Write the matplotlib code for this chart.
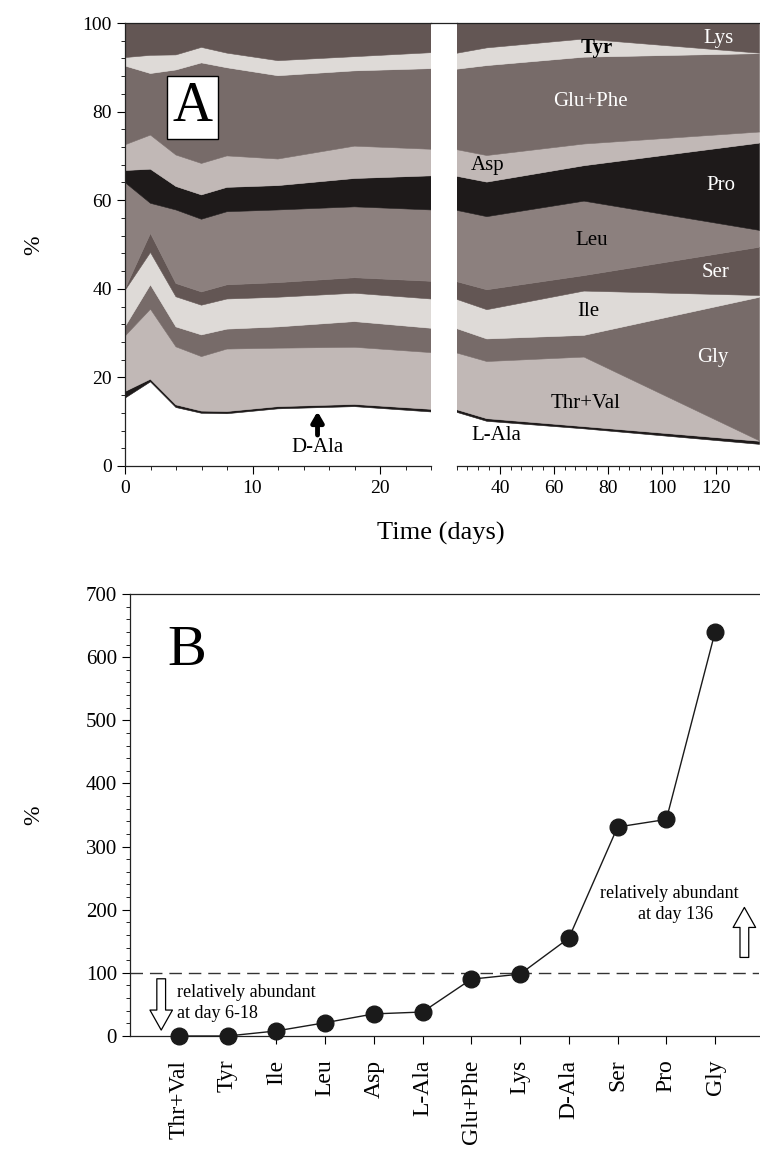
import matplotlib
matplotlib.use('Agg')
import matplotlib.pyplot as plt
import numpy as np
from matplotlib.ticker import MultipleLocator
from matplotlib.lines import Line2D
from matplotlib.patches import FancyArrowPatch, ArrowStyle

plt.rcParams['font.family'] = ['Liberation Serif', 'DejaVu Serif']

# ---------------- Panel A data (percent composition, stacked bottom->top)
days = [0, 2, 4, 6, 8, 12, 18, 24, 35, 71, 136]
l_ala   = [15.3, 19.0, 13.2, 11.9, 11.8, 12.9, 13.4, 12.2, 10.2, 8.5, 5.0]
d_ala   = [1.5, 0.6, 0.6, 0.5, 0.5, 0.5, 0.5, 0.6, 0.6, 0.5, 0.7]
thr_val = [12.5, 15.8, 13.1, 12.3, 14.1, 13.2, 12.9, 12.8, 12.9, 15.7, 0.1]
gly     = [2.1, 5.5, 4.5, 4.9, 4.5, 4.8, 5.8, 5.5, 5.1, 4.9, 32.4]
ile     = [8.2, 7.3, 6.8, 6.7, 6.8, 6.7, 6.4, 6.6, 6.6, 10.0, 0.4]
ser     = [0.3, 4.3, 3.0, 3.0, 3.2, 3.3, 3.5, 4.0, 4.5, 3.5, 10.9]
leu     = [24.1, 6.8, 16.6, 16.4, 16.5, 16.4, 16.0, 16.1, 16.5, 16.8, 3.8]
pro     = [2.7, 7.7, 5.3, 5.5, 5.5, 5.5, 6.4, 7.7, 7.8, 8.0, 19.7]
asp     = [5.8, 7.7, 7.1, 7.1, 7.1, 6.0, 7.3, 6.0, 6.0, 4.9, 2.5]
glu_phe = [17.8, 13.9, 19.2, 22.7, 19.9, 18.8, 17.0, 18.2, 20.3, 19.6, 17.7]
tyr     = [1.9, 4.1, 3.4, 3.5, 3.3, 3.4, 3.2, 3.6, 4.0, 4.1, 0.1]
lys     = [7.8, 7.3, 7.2, 5.5, 6.8, 8.5, 7.6, 6.7, 5.5, 3.5, 6.7]

layers = [l_ala, d_ala, thr_val, gly, ile, ser, leu, pro, asp, glu_phe, tyr, lys]
layer_colors = ['#ffffff', '#1e1a1a', '#c1b8b6', '#776b69', '#dedad7', '#635654',
                '#8c807e', '#1e1a1a', '#c1b8b6', '#776b69', '#dedad7', '#635654']

# ---------------- Panel B data
categories = ['Thr+Val', 'Tyr', 'Ile', 'Leu', 'Asp', 'L-Ala', 'Glu+Phe',
              'Lys', 'D-Ala', 'Ser', 'Pro', 'Gly']
ratio = [0, 0, 8, 21, 35, 38, 90, 98, 155, 331, 343, 640]

W, H = 760, 1158
fig = plt.figure(figsize=(W / 100, H / 100), dpi=100)


def rect(x0, y0, x1, y1):
    return [x0 / W, 1 - y1 / H, (x1 - x0) / W, (y1 - y0) / H]


axL = fig.add_axes(rect(125, 23, 431, 466))
axR = fig.add_axes(rect(456.7, 23, 759, 466))
for ax in (axL, axR):
    polys = ax.stackplot(days, layers, colors=layer_colors)
    for p, c in zip(polys, layer_colors):
        p.set_edgecolor(c)
        p.set_linewidth(0.4)
    ax.set_ylim(0, 100)
    ax.spines['right'].set_visible(False)
    for s in ax.spines.values():
        s.set_linewidth(0.9)
        s.set_color('#222222')
    ax.tick_params(axis='x', which='major', direction='out', length=6, labelsize=14, pad=4)
    ax.tick_params(axis='x', which='minor', direction='out', length=3)

axL.set_xlim(0, 24)
axL.xaxis.set_major_locator(MultipleLocator(10))
axL.xaxis.set_minor_locator(MultipleLocator(2))
axL.yaxis.set_major_locator(MultipleLocator(20))
axL.yaxis.set_minor_locator(MultipleLocator(4))
axL.tick_params(axis='y', which='major', direction='out', length=6, labelsize=14)
axL.tick_params(axis='y', which='minor', direction='out', length=3)

axR.set_xlim(24, 136)
axR.spines['left'].set_visible(False)
axR.set_yticks([])
axR.xaxis.set_major_locator(MultipleLocator(20))
axR.xaxis.set_minor_locator(MultipleLocator(4))
axR.set_xticks([40, 60, 80, 100, 120])

# top line across the gap
fig.add_artist(Line2D([431 / W, 456.7 / W], [1 - 23 / H, 1 - 23 / H],
                      color='#222222', lw=0.9, transform=fig.transFigure))

# "A" box
axL.text(0.22, 0.81, 'A', transform=axL.transAxes, fontsize=40, ha='center', va='center',
         bbox=dict(boxstyle='square,pad=0.1', fc='white', ec='black', lw=1))

# band labels (right part)
lab = dict(fontsize=15, ha='center', va='center')
axR.text(121, 96.6, 'Lys', color='white', **lab)
axR.text(76, 94.4, 'Tyr', color='black', fontweight='bold', **lab)
axR.text(73.4, 82.2, 'Glu+Phe', color='white', **lab)
axR.text(35.5, 67.9, 'Asp', color='black', **lab)
axR.text(122, 63.4, 'Pro', color='white', **lab)
axR.text(74, 51, 'Leu', color='black', **lab)
axR.text(120, 43.6, 'Ser', color='white', **lab)
axR.text(72.6, 34.8, 'Ile', color='black', **lab)
axR.text(119, 24.4, 'Gly', color='white', **lab)
axR.text(71.6, 14.2, 'Thr+Val', color='black', **lab)
axR.text(38.5, 6.8, 'L-Ala', color='black', **lab)

axL.text(15.1, 4.2, 'D-Ala', color='black', **lab)
axL.annotate('', xy=(15.1, 12.3), xytext=(15.1, 7.0),
             arrowprops=dict(arrowstyle='-|>,head_width=0.35,head_length=0.6',
                             color='black', lw=3.5, shrinkA=0, shrinkB=0))

fig.text(34 / W, 1 - 245 / H, '%', rotation=90, fontsize=17, ha='center', va='center')
fig.text(441 / W, 1 - 533 / H, 'Time (days)', fontsize=19, ha='center', va='center')

# ---------------- Panel B
axB = fig.add_axes(rect(130, 594, 759, 1036))
x = np.arange(1, len(categories) + 1)
axB.axhline(100, color='#333333', lw=1, ls=(0, (9, 5)))
axB.plot(x, ratio, '-o', color='#1a1a1a', lw=1, ms=12, clip_on=False, zorder=3)
axB.set_xlim(0, 12.9)
axB.set_ylim(0, 700)
axB.spines['right'].set_visible(False)
for s in axB.spines.values():
    s.set_linewidth(0.9)
    s.set_color('#222222')
axB.set_xticks(x)
axB.set_xticklabels(categories, rotation=90, fontsize=17)
axB.yaxis.set_major_locator(MultipleLocator(100))
axB.yaxis.set_minor_locator(MultipleLocator(20))
axB.tick_params(axis='y', which='major', direction='out', length=6, labelsize=15)
axB.tick_params(axis='y', which='minor', direction='out', length=3)
axB.tick_params(axis='x', direction='out', length=6, pad=11)

axB.text(0.09, 0.87, 'B', transform=axB.transAxes, fontsize=42, ha='center', va='center')
fig.text(34 / W, 1 - 815 / H, '%', rotation=90, fontsize=17, ha='center', va='center')

astyle = ArrowStyle('simple', head_length=0.8, head_width=0.9, tail_width=0.35)
axB.add_patch(FancyArrowPatch((0.64, 95), (0.64, 5), arrowstyle=astyle, mutation_scale=18,
                              fc='white', ec='black', lw=0.9, clip_on=False))
axB.add_patch(FancyArrowPatch((12.6, 120), (12.6, 208), arrowstyle=astyle, mutation_scale=18,
                              fc='white', ec='black', lw=0.9, clip_on=False))
axB.text(0.96, 52, 'relatively abundant\nat day 6-18', fontsize=13, ha='left', va='center',
         linespacing=1.35)
axB.text(9.64, 226, 'relatively abundant', fontsize=13, ha='left', va='center')
axB.text(10.42, 192, 'at day 136', fontsize=13, ha='left', va='center')

fig.savefig('out.png', dpi=100)
